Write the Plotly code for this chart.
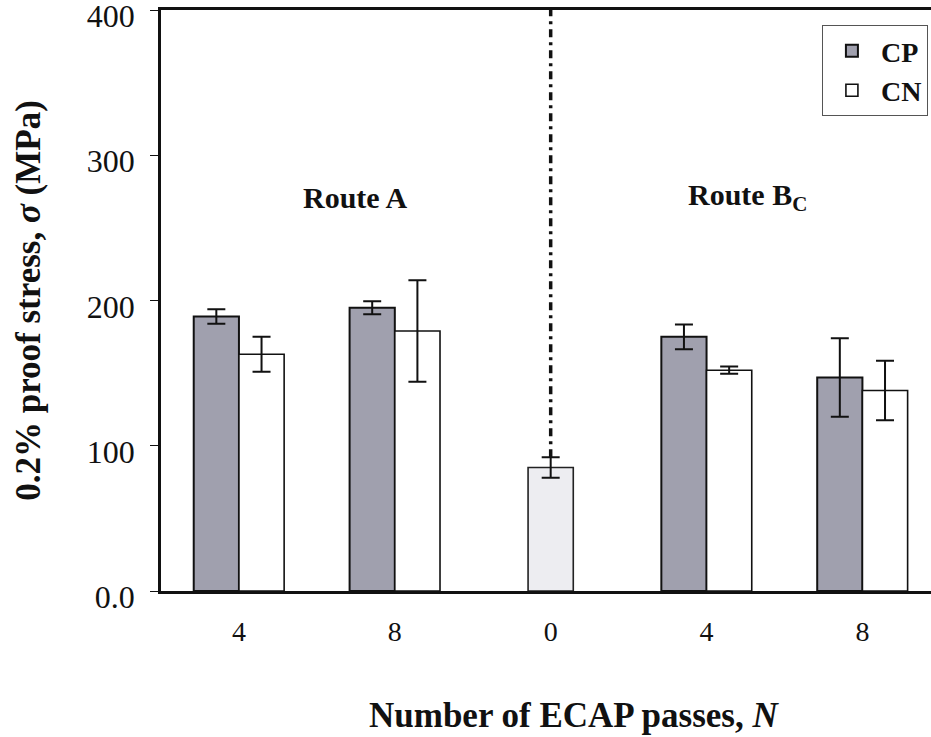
import plotly.graph_objects as go

# ---- data ----
positions = [0, 1, 3, 4]          # category slots for ECAP-processed samples
initial_pos = [2]                  # slot for unprocessed (N = 0)
tick_labels = ["4", "8", "0", "4", "8"]

cp_values = [189, 195, 175, 147]
cp_errors = [5, 4.5, 8.5, 27]
cn_values = [163, 179, 152, 138]
cn_errors = [12, 35, 2.5, 20.5]
initial_value = [85]
initial_error = [7]

route_labels = ["<b>Route A</b>", "<b>Route B<sub>C</sub></b>"]
route_x = [0.75, 3.26]
route_y = [271, 271]

FONT = "Liberation Serif"
BW = 0.29

fig = go.Figure()
fig.add_trace(go.Bar(
    x=positions, y=cp_values, name="<b>CP</b>", width=BW, offset=-BW,
    marker=dict(color="#a0a0ae", line=dict(color="#111111", width=2)),
    error_y=dict(type="data", array=cp_errors, color="#111111", thickness=2, width=9),
))
fig.add_trace(go.Bar(
    x=positions, y=cn_values, name="<b>CN</b>", width=BW, offset=0,
    marker=dict(color="white", line=dict(color="#111111", width=1.6)),
    error_y=dict(type="data", array=cn_errors, color="#111111", thickness=2, width=9),
))
fig.add_trace(go.Bar(
    x=initial_pos, y=initial_value, name="initial", width=BW, offset=-BW / 2,
    showlegend=False,
    marker=dict(color="#ededf1", line=dict(color="#222222", width=1.6)),
    error_y=dict(type="data", array=initial_error, color="#111111", thickness=2, width=9),
))

# dash-dot separator from the initial bar's error bar to the top of the plot
fig.add_shape(type="line", xref="x", yref="y",
              x0=initial_pos[0], x1=initial_pos[0],
              y0=initial_value[0] + initial_error[0], y1=400,
              line=dict(color="#111111", width=3.5, dash="8px,5px,3px,5px"))

for t, x, y in zip(route_labels, route_x, route_y):
    fig.add_annotation(x=x, y=y, xref="x", yref="y", text=t, showarrow=False,
                       font=dict(family=FONT, size=30, color="#111111"))

# x-axis title (placed as in the original, off-centre of the cropped plot area)
fig.add_annotation(x=0.536, y=0, xref="paper", yref="paper", yanchor="middle",
                   yshift=-124, showarrow=False,
                   text="<b>Number of ECAP passes, <i>N</i></b>",
                   font=dict(family=FONT, size=35, color="#111111"))

fig.update_layout(
    width=931, height=737,
    margin=dict(l=161, r=0, t=10, b=146, autoexpand=False),
    paper_bgcolor="white", plot_bgcolor="white",
    barmode="overlay",
    font=dict(family=FONT, color="#111111"),
    legend=dict(x=0.996, y=0.974, xanchor="right", yanchor="top",
                bgcolor="white", bordercolor="#555555", borderwidth=1,
                font=dict(family=FONT, size=28, color="#111111"),
                itemwidth=48, tracegroupgap=0),
    xaxis=dict(range=[-0.5, 4.44], tickvals=list(range(5)), ticktext=tick_labels,
               showline=True, linecolor="#111111", linewidth=2.5, mirror=True,
               ticks="", showgrid=False, zeroline=False, automargin=False,
               tickfont=dict(family=FONT, size=28, color="#111111"),
               ticklabelstandoff=14),
    yaxis=dict(range=[0, 400], tickvals=[0, 100, 200, 300, 400],
               ticktext=["0.0", "100", "200", "300", "400"],
               showline=True, linecolor="#111111", linewidth=2.5,
               ticks="outside", ticklen=8, tickcolor="#111111", tickwidth=1,
               showgrid=False, zeroline=False, ticklabeloverflow="allow",
               automargin=False, ticklabelshift=6,
               tickfont=dict(family=FONT, size=32, color="#111111"),
               ticklabelstandoff=9,
               title=dict(text="<b>0.2% proof stress, <i>σ</i> (MPa)</b>", standoff=36,
                          font=dict(family=FONT, size=35, color="#111111"))),
)

fig.write_html(
    "out.html",
    config={"displayModeBar": False},
    post_script="document.body.style.margin='0';document.body.style.overflow='hidden';"
                "document.documentElement.style.overflow='hidden';",
)
